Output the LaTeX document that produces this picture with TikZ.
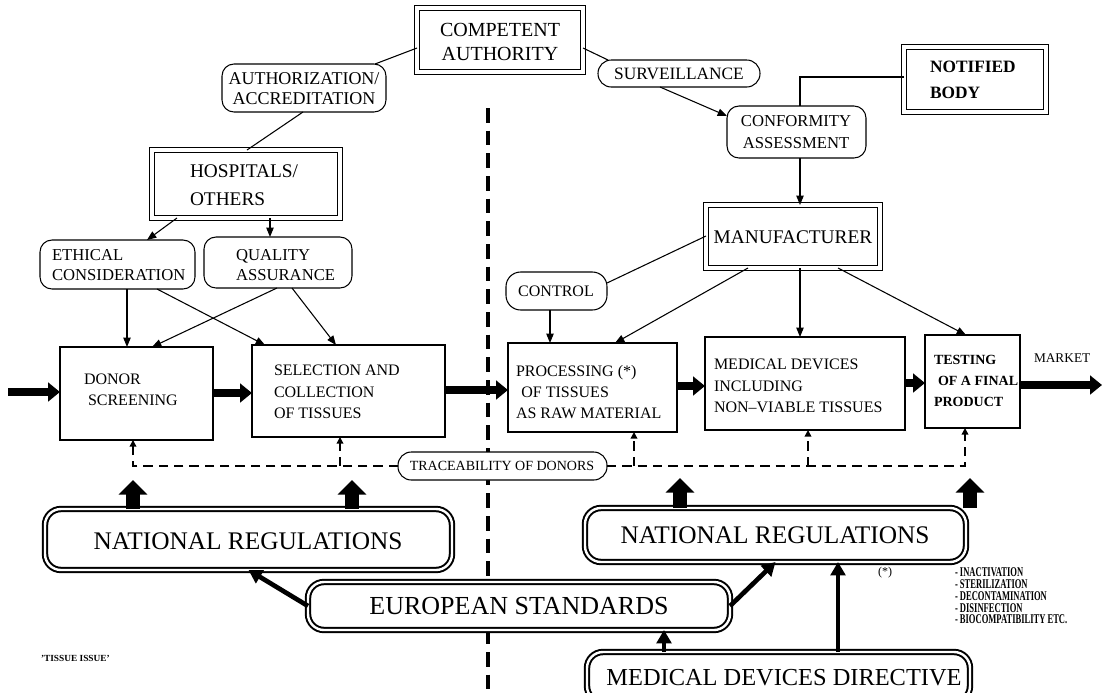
\documentclass[tikz,border=0pt]{standalone}
\usepackage{fontspec}
\usepackage{graphicx}
\setmainfont{Liberation Serif}
\usetikzlibrary{arrows.meta,fit}
\newcommand\fsz[2]{\fontsize{#1}{#2}\selectfont}
\newcommand\narrow[1]{\scalebox{0.64}[1]{#1}}
\begin{document}
\begin{tikzpicture}[x=0.75pt,y=-0.75pt,
  every node/.style={inner sep=0pt,outer sep=0pt},
  box/.style={draw,fill=white,line width=0.8pt},
  dbox/.style={draw,fill=white,double,double distance=3.6pt,line width=0.6pt},
  pill/.style={draw,fill=white,line width=0.8pt,rounded corners=9pt},
  band/.style={draw,fill=white,line width=1.5pt,double,double distance=1.8pt,rounded corners=12pt},
  link/.style={line width=0.8pt},
  arr/.style={link,-{Triangle[length=7pt,width=5.5pt]}},
  flow/.style={line width=6pt,-{Triangle[length=9pt,width=14pt]}},
  lift/.style={line width=10pt,-{Triangle[length=11pt,width=21pt]}},
  push/.style={line width=3.5pt,-{Triangle[length=10pt,width=11pt]}},
  trace/.style={line width=1.1pt,dash pattern=on 7pt off 4.5pt},
  tracearr/.style={trace,-{Triangle[length=5pt,width=5pt]}},
  divider/.style={line width=3pt,dash pattern=on 11pt off 6pt},
]
\useasboundingbox (0,0) rectangle (1104,693);
\clip (0,0) rectangle (1104,693);

% dashed divider between the tissue side and the device side
\coordinate (divtop) at (488,108);
\coordinate (divbot) at (488,700);
\draw[divider] (divtop) -- (divbot);

% ---------- authorities ----------
\node[dbox,fit={(417,8)(583,72)}] (ca) {};
\node[pill,fit={(222,64)(386,112)}] (auth) {};
\node[pill,rounded corners=10pt,fit={(598,60)(760,87)}] (surv) {};
\node[dbox,fit={(904,47)(1046,112)}] (nb) {};
\node[pill,fit={(727,106)(866,158)}] (conf) {};
\node[dbox,fit={(152,150)(340,218)}] (hosp) {};
\node[dbox,fit={(706,205)(880,268)}] (man) {};
\node[pill,fit={(40,240)(195,289)}] (eth) {};
\node[pill,fit={(204,237)(352,288)}] (qual) {};
\node[pill,rounded corners=11pt,fit={(506,272)(607,310)}] (ctrl) {};

% ---------- process chain ----------
\node[box,fit={(60,347)(213,440)}] (donor) {};
\node[box,fit={(252,345)(445,437)}] (sel) {};
\node[box,fit={(508,343)(677,432)}] (proc) {};
\node[box,fit={(705,337)(905,430)}] (md) {};
\node[box,fit={(925,335)(1020,428)}] (test) {};
\node[pill,rounded corners=10pt,fit={(398,452)(607,480)}] (trace) {};

% ---------- regulation bands ----------
\node[band,fit={(45,509)(452,570)}] (natL) {};
\node[band,fit={(585,508)(966,562)}] (natR) {};
\node[band,fit={(308,582)(730,630)}] (euro) {};
\node[band,fit={(587,652)(970,702)}] (mdd) {};

% ---------- texts ----------
\node[align=center,font=\fsz{15}{18}] (catext) at (500,42) {COMPETENT\\AUTHORITY};
\node[align=center,font=\fsz{13.5}{15}] (authtext) at (304,89) {AUTHORIZATION/\\ACCREDITATION};
\node[font=\fsz{13}{15}] (survtext) at (679,74) {SURVEILLANCE};
\node[anchor=west,align=left,font=\fsz{13}{20}\bfseries] (nbtext) at (930,80) {NOTIFIED\\BODY};
\node[align=center,font=\fsz{12.5}{16.5}] (conftext) at (796,132) {CONFORMITY\\ASSESSMENT};
\node[anchor=west,align=left,font=\fsz{14.5}{21}] (hosptext) at (190,185) {HOSPITALS/\\OTHERS};
\node[font=\fsz{14.5}{17}] (mantext) at (793,237) {MANUFACTURER};
\node[anchor=west,align=left,font=\fsz{12.5}{15}] (ethtext) at (52,265) {ETHICAL\\CONSIDERATION};
\node[anchor=west,align=left,font=\fsz{12.5}{15}] (qualtext) at (236,265) {QUALITY\\ASSURANCE};
\node[font=\fsz{12}{14}] (ctrltext) at (556,291) {CONTROL};
\node[anchor=west,align=left,font=\fsz{12}{16}] (donortext) at (84,390) {DONOR\\\hspace{3pt}SCREENING};
\node[anchor=west,align=left,font=\fsz{12}{16}] (seltext) at (274,392) {SELECTION AND\\COLLECTION\\OF TISSUES};
\node[anchor=west,align=left,font=\fsz{12}{16}] (proctext) at (516,392) {PROCESSING (*)\\\hspace{4pt}OF TISSUES\\AS RAW MATERIAL};
\node[anchor=west,align=left,font=\fsz{12}{16}] (mdtext) at (714,386) {MEDICAL DEVICES\\INCLUDING\\NON--VIABLE TISSUES};
\node[anchor=west,align=left,font=\fsz{10.5}{16}\bfseries] (testtext) at (934,381) {TESTING\\\hspace{3pt}OF A FINAL\\PRODUCT};
\node[anchor=west,font=\fsz{10}{12}] (markettext) at (1034,358) {MARKET};
\node[font=\fsz{10.5}{12}] (tracetext) at (502,466) {TRACEABILITY OF DONORS};
\node[font=\fsz{19}{22}] (natLtext) at (248,541) {NATIONAL REGULATIONS};
\node[font=\fsz{19}{22}] (natRtext) at (775,535) {NATIONAL REGULATIONS};
\node[font=\fsz{19.5}{22}] (eurotext) at (519,606) {EUROPEAN STANDARDS};
\node[font=\fsz{18.3}{22}] (mddtext) at (784,678) {MEDICAL DEVICES DIRECTIVE};

% footnote on processing steps
\node[font=\fsz{9}{11}] (star) at (885,573) {(*)};
\node[anchor=north west,align=left,font=\fsz{10}{8.8}\bfseries] (steps) at (955,568)
  {\narrow{- INACTIVATION}\\\narrow{- STERILIZATION}\\
   \narrow{- DECONTAMINATION}\\\narrow{- DISINFECTION}\\
   \narrow{- BIOCOMPATIBILITY ETC.}};
\node[anchor=west,font=\fsz{7}{8}\bfseries] (issue) at (41,658) {'TISSUE ISSUE'};

% ---------- thin connectors ----------
\draw[link] (ca.west |- 0,48) -- (auth.north -| 375,0);
\draw[link] (ca.east |- 0,48) -- (surv.north -| 608,0);
\draw[arr] (surv.south -| 660,0) -- (conf.west |- 0,116);
\draw[link] (nb.west |- 0,77) -| (conf.north -| 800,0);
\draw[arr] (conf.south -| 800,0) -- (man.north -| 800,0);
\draw[link] (man.west |- 0,236) -- (ctrl.east |- 0,283);
\draw[arr] (ctrl.south -| 550,0) -- (proc.north -| 550,0);
\draw[arr] (man.south -| 748,0) -- (proc.north -| 615,0);
\draw[arr] (man.south -| 800,0) -- (md.north -| 800,0);
\draw[arr] (man.south -| 838,0) -- (test.north -| 966,0);

\draw[link] (auth.south -| 303,0) -- (hosp.north -| 247,0);
\draw[arr] (hosp.south -| 177,0) -- (eth.north -| 147,0);
\draw[arr] (hosp.south -| 270,0) -- (qual.north -| 270,0);
\draw[arr] (eth.south -| 127,0) -- (donor.north -| 127,0);
\draw[arr] (eth.south -| 157,0) -- (sel.north -| 265,0);
\draw[arr] (qual.south -| 277,0) -- (donor.north -| 152,0);
\draw[arr] (qual.south -| 292,0) -- (sel.north -| 336,0);

% ---------- main flow ----------
\coordinate (entry) at (8,392);
\coordinate (market) at (1102,385);
\draw[flow] (entry) -- (entry -| donor.west);
\draw[flow] (donor.east |- 0,393) -- (sel.west |- 0,393);
\draw[flow] (sel.east |- 0,390) -- (proc.west |- 0,390);
\draw[flow] (proc.east |- 0,386) -- (md.west |- 0,386);
\draw[flow] (md.east |- 0,383) -- (test.west |- 0,383);
\draw[flow] (test.east |- market) -- (market);

% ---------- traceability ----------
\draw[tracearr] (trace.west) -| (donor.south -| 133,0);
\draw[tracearr] (trace.west -| 340,0) -- (sel.south -| 340,0);
\draw[tracearr] (trace.east) -| (test.south -| 965,0);
\draw[tracearr] (trace.east -| 634,0) -- (proc.south -| 634,0);
\draw[tracearr] (trace.east -| 808,0) -- (md.south -| 808,0);

% ---------- regulations ----------
\draw[lift] (natL.north -| 133,0) -- (133,480);
\draw[lift] (natL.north -| 352,0) -- (352,480);
\draw[lift] (natR.north -| 680,0) -- (680,478);
\draw[lift] (natR.north -| 970,0) -- (970,478);
\draw[push] (euro.west) -- (natL.south);
\draw[push] (euro.east) -- (natR.south);
\draw[push] (mdd.north -| 664,0) -- (euro.south -| 664,0);
\draw[push] (mdd.north -| 838,0) -- (natR.south -| 838,0);
\end{tikzpicture}
\end{document}
